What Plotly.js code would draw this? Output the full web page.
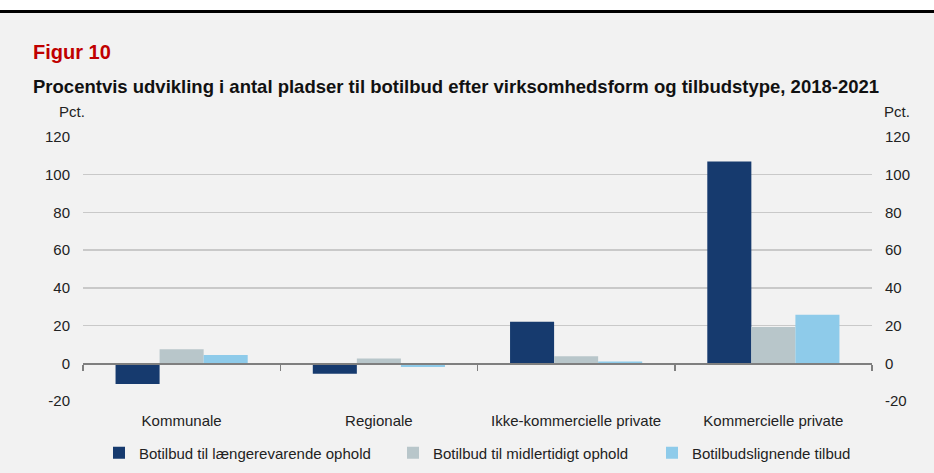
<!DOCTYPE html>
<html><head><meta charset="utf-8">
<script src="https://cdn.plot.ly/plotly-3.0.1.min.js"></script>
<style>
html,body{margin:0;padding:0;background:#fff;}
#wrap{position:relative;width:934px;height:473px;overflow:hidden;}
#chart{position:absolute;left:0;top:0;width:934px;height:473px;}
#topwhite{position:absolute;left:0;top:0;width:934px;height:10px;background:#fff;}
#topline{position:absolute;left:0;top:10px;width:934px;height:3px;background:#000;}
</style></head>
<body><div id="wrap"><div id="chart"></div><div id="topwhite"></div><div id="topline"></div></div>
<script>
const categories = ['Kommunale', 'Regionale', 'Ikke-kommercielle private', 'Kommercielle private'];
const seriesNames = ['Botilbud til længerevarende ophold', 'Botilbud til midlertidigt ophold', 'Botilbudslignende tilbud'];
const laengerevarende = [-11, -5.5, 22, 107];
const midlertidigt = [7.5, 2.5, 3.7, 19.3];
const botilbudslignende = [4.4, -2, 1, 25.8];
const yTicks = [-20, 0, 20, 40, 60, 80, 100, 120];
const colors = ['#163a6e', '#b8c6ca', '#8ecbea'];

const font = 'Liberation Sans, Arial, sans-serif';
const legendIds = ['legend', 'legend2', 'legend3'];
const legendX = [99, 393, 652];
const vals = [laengerevarende, midlertidigt, botilbudslignende];
const traces = vals.map((v, i) => ({
  type: 'bar', x: categories, y: v, name: seriesNames[i], legend: legendIds[i],
  marker: {color: colors[i], line: {width: 0}}, hoverinfo: 'x+y'
}));
traces.push({type: 'scatter', mode: 'markers', x: categories, y: categories.map(() => null),
  xaxis: 'x2', yaxis: 'y', showlegend: false, hoverinfo: 'skip'});
traces.push({type: 'scatter', mode: 'markers', x: categories, y: categories.map(() => null),
  xaxis: 'x', yaxis: 'y2', showlegend: false, hoverinfo: 'skip'});

const x0 = -0.064 - 2/789;
const layout = {
  width: 934, height: 473,
  paper_bgcolor: '#f2f2f2', plot_bgcolor: '#f2f2f2',
  margin: {l: 83, r: 62, t: 137, b: 72},
  font: {family: font, size: 15, color: '#222'},
  barmode: 'group', bargap: 0.33, bargroupgap: 0,
  showlegend: true,
  xaxis: {type: 'category', showgrid: false, showline: false, ticks: '', zeroline: false,
    ticklabelstandoff: 9, tickfont: {size: 15, color: '#222'}, fixedrange: true},
  xaxis2: {type: 'category', overlaying: 'x', matches: 'x', anchor: 'free', position: 20/140,
    showticklabels: false, showgrid: false, showline: true, linecolor: '#7f7f7f', linewidth: 1.5,
    ticks: 'outside', tickson: 'boundaries', ticklen: 6, tickcolor: '#7f7f7f', tickwidth: 1.5},
  yaxis: {range: [-20, 120], tickvals: yTicks, ticktext: yTicks.map(String), showgrid: true,
    gridcolor: '#c9c9c9', gridwidth: 1.5, zeroline: false, showline: false, ticks: '',
    ticklabelstandoff: 12, tickfont: {size: 15, color: '#222'}},
  yaxis2: {range: [-20, 120], overlaying: 'y', side: 'right', anchor: 'x', tickvals: yTicks,
    ticktext: yTicks.map(String), showgrid: false, zeroline: false, showline: false, ticks: '',
    ticklabelstandoff: 12, tickfont: {size: 15, color: '#222'}},
  annotations: [
    {text: '<b>Figur 10</b>', xref: 'paper', yref: 'paper', x: x0, y: 1.0, xanchor: 'left', yanchor: 'bottom',
     showarrow: false, font: {size: 20, color: '#c00000'}, yshift: 72},
    {text: '<b>Procentvis udvikling i antal pladser til botilbud efter virksomhedsform og tilbudstype, 2018-2021</b>',
     xref: 'paper', yref: 'paper', x: x0, y: 1.0, xanchor: 'left', yanchor: 'bottom',
     showarrow: false, font: {size: 18.5, color: '#111'}, yshift: 38},
    {text: 'Pct.', xref: 'paper', yref: 'paper', x: -0.033, y: 1.0, xanchor: 'left', yanchor: 'bottom',
     showarrow: false, font: {size: 15, color: '#222'}, yshift: 15},
    {text: 'Pct.', xref: 'paper', yref: 'paper', x: 1.013, y: 1.0, xanchor: 'left', yanchor: 'bottom',
     showarrow: false, font: {size: 15, color: '#222'}, yshift: 15}
  ]
};
legendIds.forEach((id, i) => {
  layout[id] = {orientation: 'h', xref: 'container', yref: 'container', x: legendX[i] / 934, xanchor: 'left',
    y: 20 / 473, yanchor: 'middle', font: {size: 15, color: '#222'}, itemwidth: 30,
    bgcolor: 'rgba(0,0,0,0)'};
});
Plotly.newPlot('chart', traces, layout, {displayModeBar: false, staticPlot: true});
</script></body></html>
